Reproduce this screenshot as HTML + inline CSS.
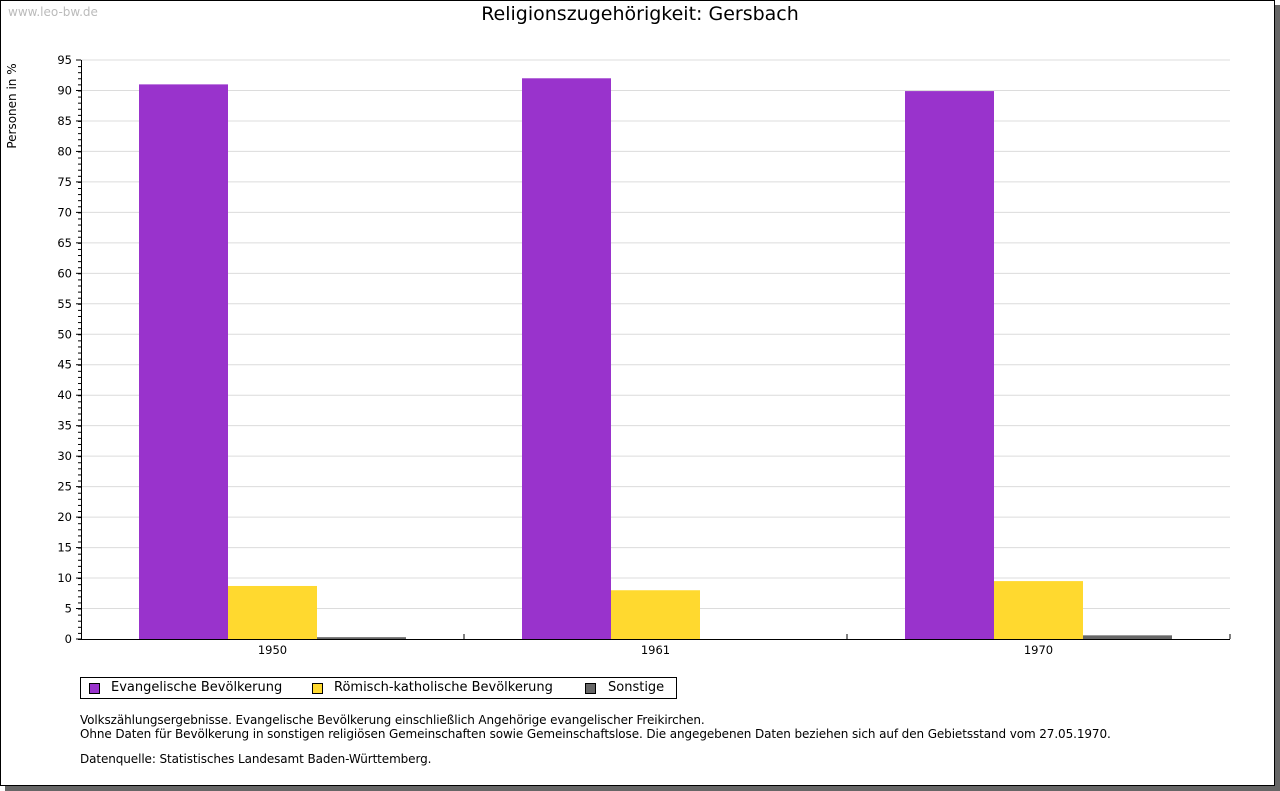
<!DOCTYPE html>
<html><head><meta charset="utf-8"><style>
body{margin:0;background:#fff;width:1280px;height:791px;overflow:hidden;font-family:"DejaVu Sans","Liberation Sans",sans-serif;}
.frame{position:absolute;left:0;top:0;width:1273px;height:784px;border:1px solid #000;background:#fff;box-shadow:5px 5px 0 #666;}
.t{position:absolute;white-space:nowrap;}
</style></head><body>
<div class="frame"></div>
<div class="t" style="left:8px;top:5px;font-size:12px;color:#bbb">www.leo-bw.de</div>
<div class="t" style="left:0;width:1280px;text-align:center;top:3px;font-size:19px;color:#000">Religionszugehörigkeit: Gersbach</div>
<div class="t" style="left:-38px;top:99px;font-size:12px;transform:rotate(-90deg);width:100px;text-align:center">Personen in %</div>
<svg id="chart" width="1280" height="791" style="position:absolute;left:0;top:0"></svg>
<div class="t" style="left:80px;top:677px;width:595px;height:20px;border:1px solid #000;font-size:13px;">
<span style="position:absolute;left:8px;top:5px;width:9px;height:9px;background:#9933cc;border:1px solid #000"></span>
<span style="position:absolute;left:30px;top:2px">Evangelische Bevölkerung</span>
<span style="position:absolute;left:231px;top:5px;width:9px;height:9px;background:#ffd92f;border:1px solid #000"></span>
<span style="position:absolute;left:253px;top:2px">Römisch-katholische Bevölkerung</span>
<span style="position:absolute;left:504px;top:5px;width:9px;height:9px;background:#666;border:1px solid #000"></span>
<span style="position:absolute;left:527px;top:2px">Sonstige</span>
</div>
<div class="t" style="left:80px;top:713px;font-size:12px;line-height:14px;letter-spacing:-0.1px">Volkszählungsergebnisse. Evangelische Bevölkerung einschließlich Angehörige evangelischer Freikirchen.<br>Ohne Daten für Bevölkerung in sonstigen religiösen Gemeinschaften sowie Gemeinschaftslose. Die angegebenen Daten beziehen sich auf den Gebietsstand vom 27.05.1970.</div>
<div class="t" style="left:80px;top:752px;font-size:12px;letter-spacing:-0.1px">Datenquelle: Statistisches Landesamt Baden-Württemberg.</div>
<script>
const categories=["1950","1961","1970"];
const evangelisch=[91.0,92.0,89.9];
const katholisch=[8.7,8.0,9.5];
const sonstige=[0.3,0,0.6];
const yTicks=[0,5,10,15,20,25,30,35,40,45,50,55,60,65,70,75,80,85,90,95];
const series=[{v:evangelisch,c:"#9933cc",n:"evangelisch"},{v:katholisch,c:"#ffd92f",n:"katholisch"},{v:sonstige,c:"#666666",n:"sonstige"}];
const svg=document.getElementById('chart');const NS="http://www.w3.org/2000/svg";
const X0=81,X1=1230,Y0=639,Y1=60,YMAX=95;
const y=v=>Y0-(v/YMAX)*(Y0-Y1);
const gw=(X1-X0)/categories.length;
function mk(t,a){const e=document.createElementNS(NS,t);for(const k in a)e.setAttribute(k,a[k]);svg.appendChild(e);return e;}
yTicks.forEach(t=>{
 if(t>0){const g=mk('line',{x1:X0,x2:X1,y1:y(t),y2:y(t),stroke:'#dcdcdc'});
 
 }
 const l=mk('text',{x:72,y:y(t)+4,'text-anchor':'end','font-size':11.5,'font-family':'DejaVu Sans, sans-serif'});l.textContent=t;
 
 
 mk('line',{x1:X0-5,x2:X0,y1:y(t),y2:y(t),stroke:'#000'});
});
for(let v=0;v<YMAX;v++){mk('line',{x1:X0-3,x2:X0,y1:y(v)+0.5,y2:y(v)+0.5,stroke:'#000'});}
categories.forEach((c,i)=>{
 const gx=X0+i*gw, bw=89, start=gx+gw/2-bw*1.5;
 series.forEach((s,j)=>{
  const r=mk('rect',{x:start+j*bw,y:y(s.v[i]),width:bw,height:Y0-y(s.v[i]),fill:s.c});
  
  
 });
 const l=mk('text',{x:gx+gw/2,y:Y0+15,'text-anchor':'middle','font-size':11.5,'font-family':'DejaVu Sans, sans-serif'});l.textContent=c;
 
 
 mk('line',{x1:gx+gw,x2:gx+gw,y1:Y0-5,y2:Y0,stroke:'#000'});
});
const ax=mk('line',{x1:X0+0.5,x2:X0+0.5,y1:Y1,y2:Y0,stroke:'#000'});


const bx=mk('line',{x1:X0,x2:X1,y1:Y0+0.5,y2:Y0+0.5,stroke:'#000'});


</script>
</body></html>
